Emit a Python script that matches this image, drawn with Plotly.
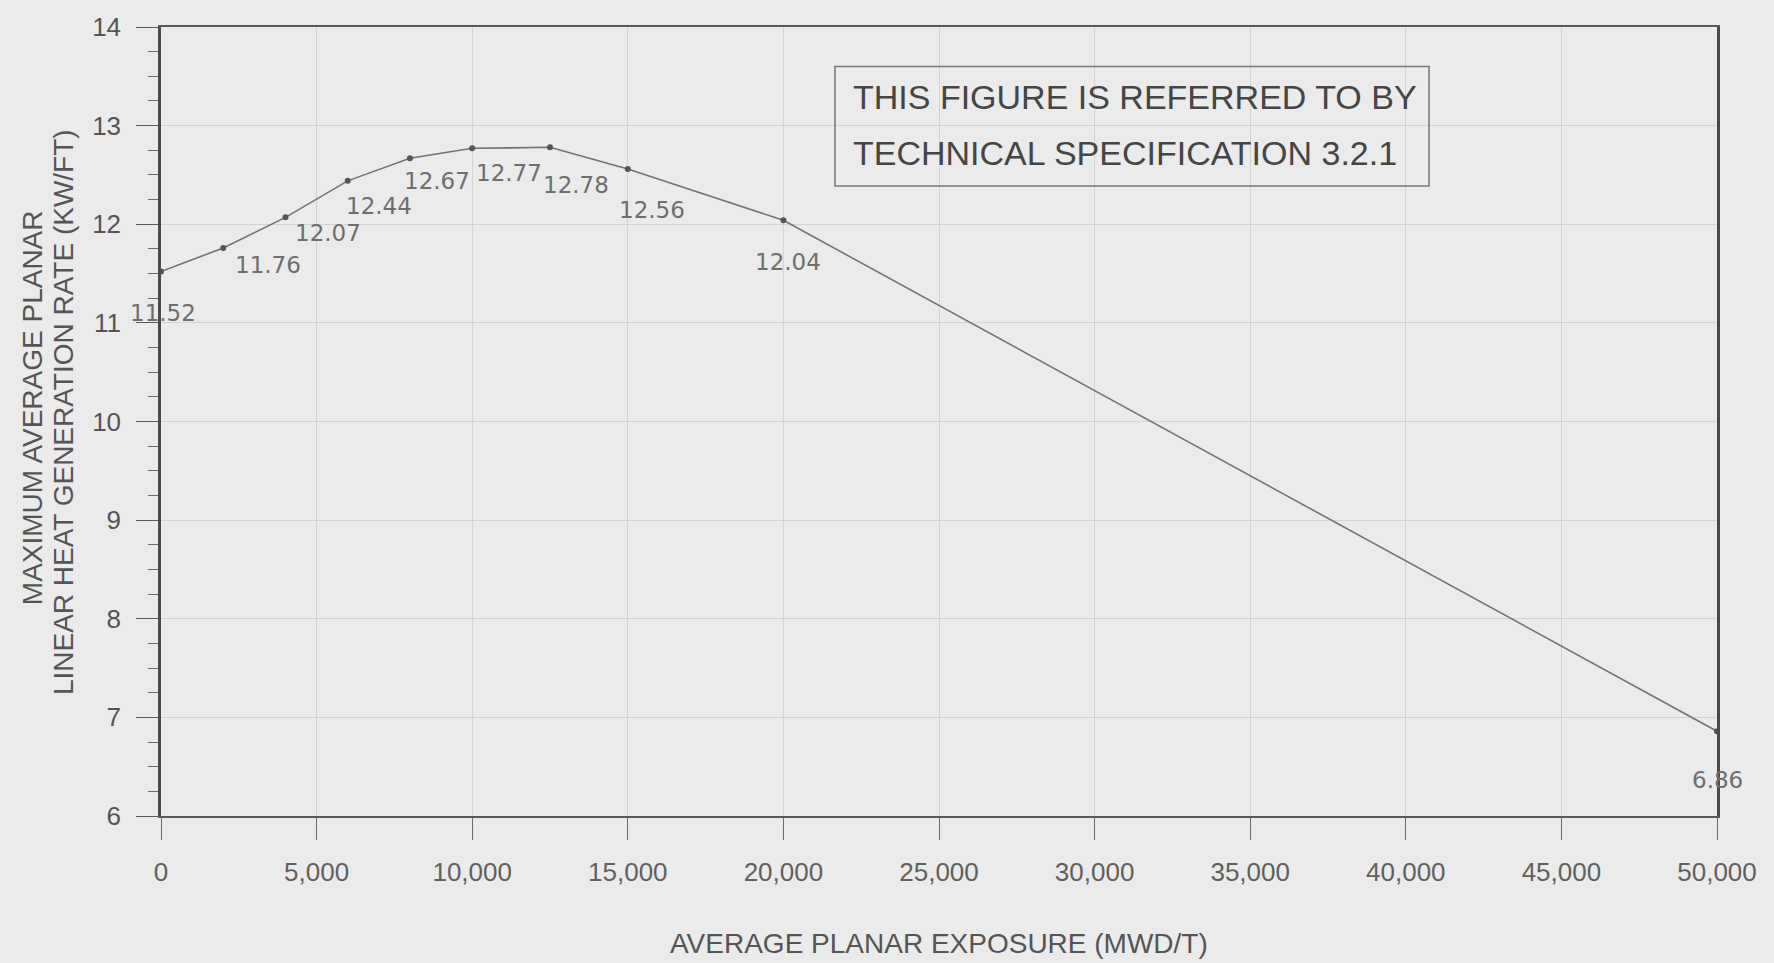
import plotly.graph_objects as go

# ---- data ----
exposure = [0, 2000, 4000, 6000, 8000, 10000, 12500, 15000, 20000, 50000]
maplhgr = [11.52, 11.76, 12.07, 12.44, 12.67, 12.77, 12.78, 12.56, 12.04, 6.86]
x_ticks = [0, 5000, 10000, 15000, 20000, 25000, 30000, 35000, 40000, 45000, 50000]
x_tick_text = ["0", "5,000", "10,000", "15,000", "20,000", "25,000", "30,000",
               "35,000", "40,000", "45,000", "50,000"]
y_ticks = [6, 7, 8, 9, 10, 11, 12, 13, 14]
note_lines = ["THIS FIGURE IS REFERRED TO BY", "TECHNICAL SPECIFICATION 3.2.1"]
x_title = "AVERAGE PLANAR EXPOSURE (MWD/T)"
y_title_lines = ["MAXIMUM AVERAGE PLANAR", "LINEAR HEAT GENERATION RATE (KW/FT)"]

# label pixel offsets (style, not data)
label_shift = [(2, -41), (45, -17), (43, -16), (31, -25), (27, -23),
               (37, -25), (26, -38), (24, -41), (5, -42), (0, -49)]

W, H = 1774, 963
L, R, T, B = 161, 57, 17, 147
pw, ph = W - L - R, H - T - B
BG = "#ebebeb"
FONT = "Liberation Sans, Arial, sans-serif"

def px(xp):
    return (xp - L) / pw

def py(yp):
    return (H - B - yp) / ph

fig = go.Figure()
fig.add_trace(go.Scatter(
    x=exposure, y=maplhgr, mode="lines+markers",
    line=dict(color="#727272", width=1.6),
    marker=dict(color="#555555", size=6),
    showlegend=False, hoverinfo="x+y"))

annotations = []
for xv, yv, (dx, dy) in zip(exposure, maplhgr, label_shift):
    annotations.append(dict(
        x=xv, y=yv, xref="x", yref="y", text=f"{yv:.2f}", showarrow=False,
        xshift=dx, yshift=dy,
        font=dict(family="DejaVu Sans", size=23, color="#6e6e6e")))

# note box text
annotations.append(dict(x=px(851), y=py(88), xref="paper", yref="paper",
                        text=note_lines[0], showarrow=False, xanchor="left", yanchor="middle",
                        font=dict(family=FONT, size=34, color="#454545")))
annotations.append(dict(x=px(851), y=py(145), xref="paper", yref="paper",
                        text=note_lines[1], showarrow=False, xanchor="left", yanchor="middle",
                        font=dict(family=FONT, size=34, color="#454545")))
# axis titles
annotations.append(dict(x=px(939), y=py(945), xref="paper", yref="paper",
                        text=x_title, showarrow=False, xanchor="center", yanchor="middle",
                        font=dict(family=FONT, size=28, color="#555555")))
annotations.append(dict(x=px(32), y=py(403), xref="paper", yref="paper",
                        text=y_title_lines[0], showarrow=False, textangle=-90,
                        xanchor="center", yanchor="middle",
                        font=dict(family=FONT, size=28, color="#555555")))
annotations.append(dict(x=px(63), y=py(407), xref="paper", yref="paper",
                        text=y_title_lines[1], showarrow=False, textangle=-90,
                        xanchor="center", yanchor="middle",
                        font=dict(family=FONT, size=28, color="#555555")))

fig.add_shape(type="rect", xref="paper", yref="paper",
              x0=px(835), x1=px(1429), y0=py(178), y1=py(57),
              line=dict(color="#777777", width=1.5))

fig.update_layout(
    width=W, height=H,
    margin=dict(l=L, r=R, t=T, b=B),
    paper_bgcolor=BG, plot_bgcolor=BG,
    annotations=annotations,
    xaxis=dict(range=[0, 50000], tickvals=x_ticks, ticktext=x_tick_text,
               showgrid=True, gridcolor="#d4d4d4", gridwidth=1,
               zeroline=False, showline=True, linecolor="#5a5a5a", linewidth=2,
               mirror=True, ticks="outside", ticklen=22, tickcolor="#6a6a6a",
               tickwidth=1.2, ticklabelstandoff=10,
               tickfont=dict(family=FONT, size=26, color="#606060")),
    yaxis=dict(range=[6, 14], tickvals=y_ticks,
               showgrid=True, gridcolor="#d4d4d4", gridwidth=1,
               zeroline=False, showline=True, linecolor="#4a4a4a", linewidth=2.5,
               mirror=True, ticks="outside", ticklen=22, tickcolor="#5a5a5a",
               tickwidth=1.2, ticklabelstandoff=10,
               minor=dict(dtick=0.25, ticks="outside", ticklen=10, tickcolor="#6a6a6a",
                          showgrid=False),
               tickfont=dict(family=FONT, size=26, color="#555555")),
)

fig.write_html(
    "out.html",
    config={"displayModeBar": False},
    post_script="document.body.style.margin='0';document.body.style.overflow='hidden';"
                "document.body.style.background='%s';" % BG,
)
